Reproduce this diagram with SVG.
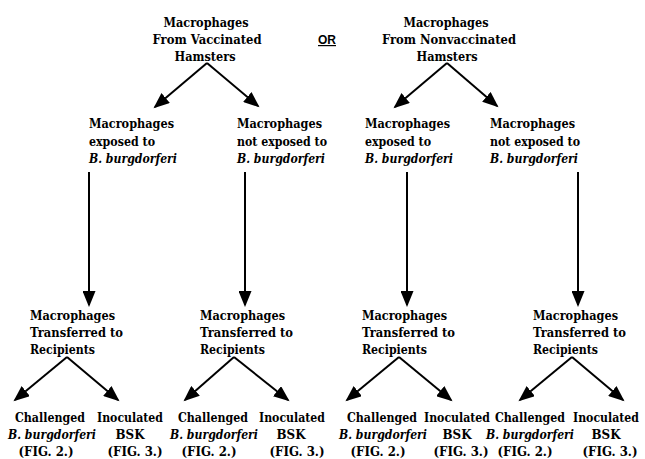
<svg xmlns="http://www.w3.org/2000/svg" width="645" height="459" viewBox="0 0 645 459">
<defs>
<style>
text{font-family:"DejaVu Serif",serif;font-weight:bold;font-size:13.5px;fill:#000}
.c{text-anchor:middle}
.i{font-style:italic}
.or{font-family:"Liberation Sans","DejaVu Sans",sans-serif;font-size:12px;text-decoration:underline}
.ln{stroke:#000;stroke-width:2;fill:none;marker-end:url(#ah)}
</style>
<marker id="ah" markerUnits="userSpaceOnUse" markerWidth="17" markerHeight="13" refX="14" refY="6.5" orient="auto">
<path d="M0,0 L16,6.5 L0,13 z" fill="#000"/>
</marker>
</defs>
<rect width="645" height="459" fill="#fff"/>

<g id="title-vacc">
<text class="c" x="206" y="27" textLength="85" lengthAdjust="spacingAndGlyphs">Macrophages</text>
<text class="c" x="207" y="44" textLength="109" lengthAdjust="spacingAndGlyphs">From Vaccinated</text>
<text class="c" x="205" y="61" textLength="61" lengthAdjust="spacingAndGlyphs">Hamsters</text>
</g>
<g id="or-label"><text class="or" x="318" y="44">OR</text></g>
<g id="title-nonvacc">
<text class="c" x="446" y="27" textLength="85" lengthAdjust="spacingAndGlyphs">Macrophages</text>
<text class="c" x="449" y="44" textLength="134" lengthAdjust="spacingAndGlyphs">From Nonvaccinated</text>
<text class="c" x="447" y="61" textLength="61" lengthAdjust="spacingAndGlyphs">Hamsters</text>
</g>

<g id="exp1">
<text x="89" y="128" textLength="85" lengthAdjust="spacingAndGlyphs">Macrophages</text>
<text x="89" y="146" textLength="66" lengthAdjust="spacingAndGlyphs">exposed to</text>
<text x="89" y="163" class="i" textLength="88" lengthAdjust="spacingAndGlyphs">B. burgdorferi</text>
</g>
<g id="notexp1">
<text x="237" y="128" textLength="85" lengthAdjust="spacingAndGlyphs">Macrophages</text>
<text x="237" y="146" textLength="90" lengthAdjust="spacingAndGlyphs">not exposed to</text>
<text x="237" y="163" class="i" textLength="88" lengthAdjust="spacingAndGlyphs">B. burgdorferi</text>
</g>
<g id="exp2">
<text x="365" y="128" textLength="85" lengthAdjust="spacingAndGlyphs">Macrophages</text>
<text x="365" y="146" textLength="66" lengthAdjust="spacingAndGlyphs">exposed to</text>
<text x="365" y="163" class="i" textLength="88" lengthAdjust="spacingAndGlyphs">B. burgdorferi</text>
</g>
<g id="notexp2">
<text x="490" y="128" textLength="85" lengthAdjust="spacingAndGlyphs">Macrophages</text>
<text x="490" y="146" textLength="90" lengthAdjust="spacingAndGlyphs">not exposed to</text>
<text x="490" y="163" class="i" textLength="88" lengthAdjust="spacingAndGlyphs">B. burgdorferi</text>
</g>

<g id="transfer1">
<text x="30" y="320" textLength="85" lengthAdjust="spacingAndGlyphs">Macrophages</text>
<text x="30" y="337" textLength="93" lengthAdjust="spacingAndGlyphs">Transferred to</text>
<text x="30" y="354" textLength="65" lengthAdjust="spacingAndGlyphs">Recipients</text>
</g>
<g id="transfer2">
<text x="200" y="320" textLength="85" lengthAdjust="spacingAndGlyphs">Macrophages</text>
<text x="200" y="337" textLength="93" lengthAdjust="spacingAndGlyphs">Transferred to</text>
<text x="200" y="354" textLength="65" lengthAdjust="spacingAndGlyphs">Recipients</text>
</g>
<g id="transfer3">
<text x="362" y="320" textLength="85" lengthAdjust="spacingAndGlyphs">Macrophages</text>
<text x="362" y="337" textLength="93" lengthAdjust="spacingAndGlyphs">Transferred to</text>
<text x="362" y="354" textLength="65" lengthAdjust="spacingAndGlyphs">Recipients</text>
</g>
<g id="transfer4">
<text x="533" y="320" textLength="85" lengthAdjust="spacingAndGlyphs">Macrophages</text>
<text x="533" y="337" textLength="93" lengthAdjust="spacingAndGlyphs">Transferred to</text>
<text x="533" y="354" textLength="65" lengthAdjust="spacingAndGlyphs">Recipients</text>
</g>

<g id="chal1">
<text class="c" x="50" y="422" textLength="70" lengthAdjust="spacingAndGlyphs">Challenged</text>
<text class="c i" x="52" y="439" textLength="88" lengthAdjust="spacingAndGlyphs">B. burgdorferi</text>
<text class="c" x="46" y="456" textLength="55" lengthAdjust="spacingAndGlyphs">(FIG. 2.)</text>
</g>
<g id="inoc1">
<text class="c" x="130" y="422" textLength="66" lengthAdjust="spacingAndGlyphs">Inoculated</text>
<text class="c" x="130" y="439" textLength="29" lengthAdjust="spacingAndGlyphs">BSK</text>
<text class="c" x="135" y="456" textLength="55" lengthAdjust="spacingAndGlyphs">(FIG. 3.)</text>
</g>
<g id="chal2">
<text class="c" x="213" y="422" textLength="70" lengthAdjust="spacingAndGlyphs">Challenged</text>
<text class="c i" x="214" y="439" textLength="88" lengthAdjust="spacingAndGlyphs">B. burgdorferi</text>
<text class="c" x="209" y="456" textLength="55" lengthAdjust="spacingAndGlyphs">(FIG. 2.)</text>
</g>
<g id="inoc2">
<text class="c" x="292" y="422" textLength="66" lengthAdjust="spacingAndGlyphs">Inoculated</text>
<text class="c" x="291" y="439" textLength="29" lengthAdjust="spacingAndGlyphs">BSK</text>
<text class="c" x="297" y="456" textLength="55" lengthAdjust="spacingAndGlyphs">(FIG. 3.)</text>
</g>
<g id="chal3">
<text class="c" x="382" y="422" textLength="70" lengthAdjust="spacingAndGlyphs">Challenged</text>
<text class="c i" x="383" y="439" textLength="88" lengthAdjust="spacingAndGlyphs">B. burgdorferi</text>
<text class="c" x="378" y="456" textLength="55" lengthAdjust="spacingAndGlyphs">(FIG. 2.)</text>
</g>
<g id="inoc3">
<text class="c" x="457" y="422" textLength="66" lengthAdjust="spacingAndGlyphs">Inoculated</text>
<text class="c" x="457" y="439" textLength="29" lengthAdjust="spacingAndGlyphs">BSK</text>
<text class="c" x="461" y="456" textLength="55" lengthAdjust="spacingAndGlyphs">(FIG. 3.)</text>
</g>
<g id="chal4">
<text class="c" x="530" y="422" textLength="70" lengthAdjust="spacingAndGlyphs">Challenged</text>
<text class="c i" x="530" y="439" textLength="88" lengthAdjust="spacingAndGlyphs">B. burgdorferi</text>
<text class="c" x="525" y="456" textLength="55" lengthAdjust="spacingAndGlyphs">(FIG. 2.)</text>
</g>
<g id="inoc4">
<text class="c" x="606" y="422" textLength="66" lengthAdjust="spacingAndGlyphs">Inoculated</text>
<text class="c" x="606" y="439" textLength="29" lengthAdjust="spacingAndGlyphs">BSK</text>
<text class="c" x="610" y="456" textLength="55" lengthAdjust="spacingAndGlyphs">(FIG. 3.)</text>
</g>

<g id="connectors">
<path class="ln" d="M207,63 L155,107"/>
<path class="ln" d="M207,63 L258,106"/>
<path class="ln" d="M447,63 L395,107"/>
<path class="ln" d="M447,63 L497,106"/>
<path class="ln" d="M89,172 L89,305"/>
<path class="ln" d="M245,172 L245,305"/>
<path class="ln" d="M407,172 L407,305"/>
<path class="ln" d="M578,172 L578,305"/>
<path class="ln" d="M67,357 L15,400"/>
<path class="ln" d="M67,357 L118,400"/>
<path class="ln" d="M234,357 L185,400"/>
<path class="ln" d="M234,357 L288,400"/>
<path class="ln" d="M399,357 L347,400"/>
<path class="ln" d="M399,357 L451,400"/>
<path class="ln" d="M572,357 L520,400"/>
<path class="ln" d="M572,357 L623,400"/>
</g>
</svg>
